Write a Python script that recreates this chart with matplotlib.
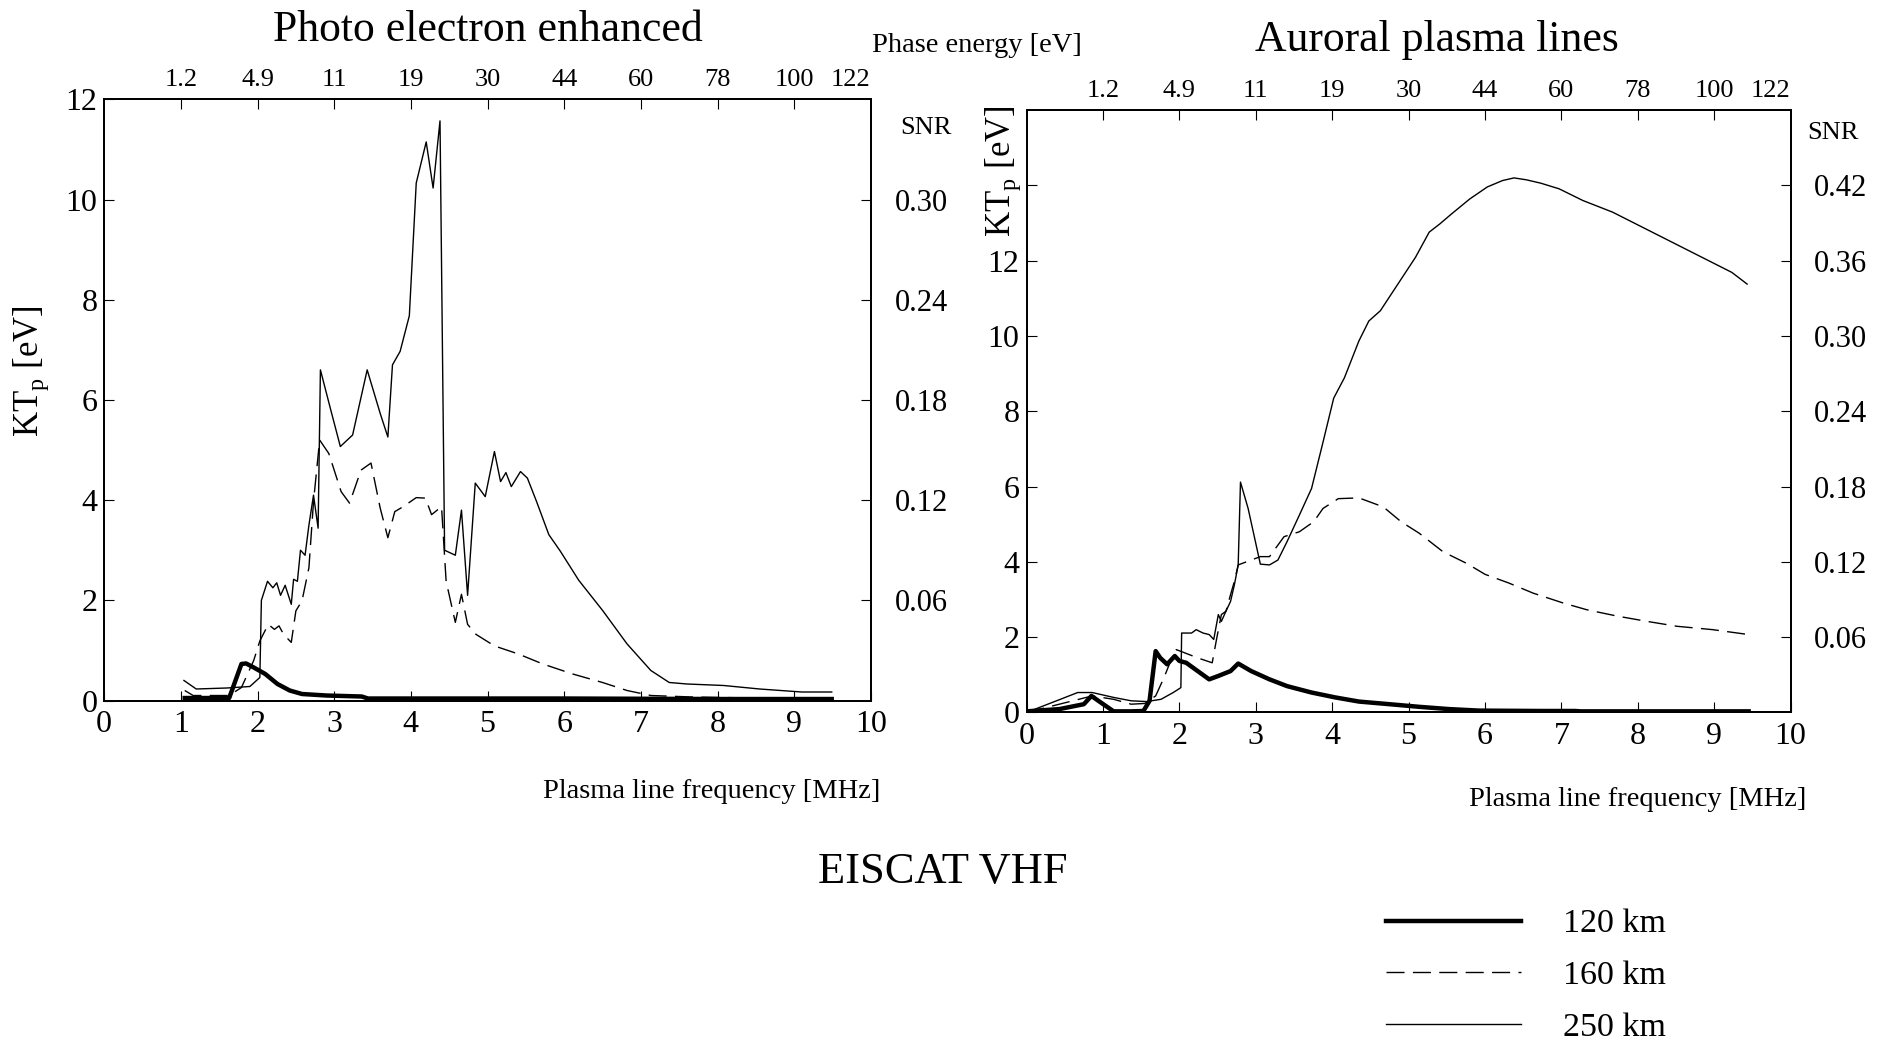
import matplotlib
matplotlib.use("Agg")
import matplotlib.pyplot as plt
from matplotlib.lines import Line2D

plt.rcParams['font.family'] = ['Liberation Serif', 'DejaVu Serif']
plt.rcParams['mathtext.fontset'] = 'custom'
plt.rcParams['mathtext.rm'] = 'Liberation Serif'

# ---- data: photo electron enhanced panel (MHz, eV) ----
pe_x_120 = [1.05, 1.63, 1.79, 1.85, 1.95, 2.1, 2.26, 2.42, 2.58, 2.9, 3.36, 3.44, 4.5, 6.0, 8.0, 9.49]
pe_y_120 = [0.05, 0.05, 0.73, 0.74, 0.66, 0.53, 0.33, 0.2, 0.13, 0.1, 0.08, 0.04, 0.04, 0.04, 0.03, 0.03]

pe_x_160 = [1.05, 1.16, 1.63, 1.79, 1.95, 2.03, 2.14, 2.22, 2.28, 2.34, 2.44, 2.5, 2.58, 2.67,
            2.73, 2.81, 2.93, 3.09, 3.2, 3.35, 3.48, 3.6, 3.7, 3.79, 3.9, 4.07, 4.19, 4.27,
            4.4, 4.46, 4.58, 4.66, 4.74, 4.85, 5.09, 5.4, 5.72, 6.11, 6.5, 6.82, 7.13,
            7.68, 8.47, 9.49]
pe_y_160 = [0.2, 0.1, 0.1, 0.26, 0.8, 1.19, 1.52, 1.42, 1.49, 1.32, 1.16, 1.79, 1.99, 2.65,
            3.97, 5.2, 4.93, 4.17, 3.94, 4.6, 4.74, 3.84, 3.25, 3.77, 3.87, 4.05, 4.04, 3.71,
            3.87, 2.38, 1.56, 2.12, 1.52, 1.32, 1.09, 0.93, 0.73, 0.53, 0.36, 0.2, 0.1,
            0.07, 0.05, 0.05]

pe_x_250 = [1.04, 1.2, 1.6, 1.9, 2.03, 2.05, 2.13, 2.2, 2.25, 2.3, 2.36, 2.44, 2.47, 2.52,
            2.56, 2.62, 2.67, 2.73, 2.79, 2.82, 2.95, 3.08, 3.24, 3.43, 3.6, 3.7, 3.76,
            3.86, 3.98, 4.07, 4.2, 4.29, 4.38, 4.44, 4.58, 4.66, 4.74, 4.84, 4.97, 5.09,
            5.17, 5.24, 5.31, 5.43, 5.52, 5.64, 5.8, 5.95, 6.19, 6.5, 6.82, 7.13, 7.37,
            7.6, 8.08, 8.55, 9.1, 9.49]
pe_y_250 = [0.4, 0.23, 0.25, 0.28, 0.46, 2.0, 2.38, 2.25, 2.35, 2.1, 2.3, 1.92, 2.42, 2.38,
            3.0, 2.9, 3.5, 4.1, 3.44, 6.6, 5.83, 5.07, 5.3, 6.6, 5.73, 5.26, 6.7,
            6.97, 7.68, 10.33, 11.15, 10.23, 11.57, 3.0, 2.9, 3.8, 2.1, 4.34, 4.07, 4.97,
            4.37, 4.55, 4.27, 4.57, 4.44, 3.97, 3.31, 2.98, 2.4, 1.8, 1.13, 0.6, 0.36,
            0.33, 0.3, 0.23, 0.17, 0.17]

# ---- data: auroral plasma lines panel (MHz, eV) ----
au_x_120 = [0.0, 0.43, 0.75, 0.85, 0.94, 1.14, 1.37, 1.53, 1.61, 1.69, 1.75, 1.84, 1.94, 2.0,
            2.09, 2.24, 2.39, 2.51, 2.67, 2.77, 2.94, 3.18, 3.41, 3.73, 4.04, 4.35, 4.75,
            5.14, 5.53, 5.92, 6.71, 7.18, 7.25, 9.45]
au_y_120 = [0.03, 0.09, 0.22, 0.44, 0.31, 0.03, 0.03, 0.04, 0.31, 1.63, 1.45, 1.28, 1.5, 1.37,
            1.32, 1.1, 0.88, 0.97, 1.1, 1.3, 1.1, 0.88, 0.7, 0.53, 0.4, 0.29, 0.22,
            0.15, 0.09, 0.05, 0.04, 0.04, 0.03, 0.03]

au_x_160 = [0.0, 0.43, 0.86, 1.14, 1.37, 1.55, 1.69, 1.8, 1.92, 1.96, 2.05, 2.24, 2.43, 2.49,
            2.55, 2.61, 2.67, 2.72, 2.77, 3.06, 3.18, 3.37, 3.57, 3.76, 3.88, 4.08, 4.35,
            4.67, 4.9, 5.14, 5.45, 5.76, 6.0, 6.31, 6.63, 7.02, 7.33, 7.73, 8.12, 8.51,
            8.98, 9.45]
au_y_160 = [0.0, 0.22, 0.44, 0.35, 0.22, 0.24, 0.44, 0.93, 1.54, 1.67, 1.6, 1.45, 1.32, 1.98,
            2.6, 2.69, 3.13, 3.48, 3.92, 4.14, 4.14, 4.67, 4.8, 5.07, 5.42, 5.68, 5.7,
            5.46, 5.07, 4.76, 4.27, 3.96, 3.67, 3.44, 3.17, 2.91, 2.73, 2.56, 2.42, 2.29,
            2.2, 2.07]

au_x_250 = [0.0, 0.67, 0.86, 1.14, 1.37, 1.57, 1.76, 1.92, 2.02, 2.03, 2.16, 2.22, 2.31, 2.39,
            2.45, 2.51, 2.55, 2.61, 2.67, 2.72, 2.77, 2.8, 2.9, 3.06, 3.18, 3.29, 3.41,
            3.57, 3.73, 3.88, 4.02, 4.16, 4.35, 4.48, 4.63, 4.86, 5.09, 5.27, 5.41, 5.56,
            5.8, 6.03, 6.23, 6.38, 6.54, 6.73, 6.97, 7.28, 7.67, 8.06, 8.45, 8.84, 9.23,
            9.43]
au_y_250 = [0.0, 0.53, 0.53, 0.4, 0.31, 0.29, 0.35, 0.53, 0.66, 2.11, 2.11, 2.2, 2.11, 2.07,
            1.94, 2.6, 2.42, 2.69, 2.95, 3.39, 3.92, 6.12, 5.42, 3.94, 3.92, 4.05, 4.54,
            5.24, 5.95, 7.18, 8.35, 8.89, 9.87, 10.4, 10.67, 11.38, 12.09, 12.76, 12.98, 13.24,
            13.64, 13.96, 14.13, 14.2, 14.15, 14.06, 13.91, 13.6, 13.29, 12.89, 12.49, 12.09, 11.69,
            11.38]

freq_ticks = list(range(0, 11))
energy_ticks = [1, 2, 3, 4, 5, 6, 7, 8, 9, 10]
energy_labels = ['1.2', '4.9', '11', '19', '30', '44', '60', '78', '100', '122']
snr_per_ev = 0.03

DASH = (0, (13, 6))


def panel(rect, series, ytop, kt_ticks, kt_labels, snr_ticks):
    ax = fig.add_axes(rect)
    for x, y, lw, ls in series:
        ax.plot(x, y, color='black', linewidth=lw, linestyle=ls)
    ax.set_xlim(0, 10)
    ax.set_ylim(0, ytop)
    ax.set_xticks(freq_ticks)
    ax.set_yticks(kt_ticks)
    ax.set_yticklabels(kt_labels)
    ax.tick_params(axis='x', direction='in', length=7, labelsize=23, pad=7)
    ax.tick_params(axis='y', direction='in', length=7, labelsize=23, pad=5)
    # top axis: phase energy
    top = ax.twiny()
    top.set_xlim(0, 10)
    top.set_xticks(energy_ticks)
    top.set_xticklabels(energy_labels)
    top.tick_params(direction='in', length=7, labelsize=19, pad=6)
    last = top.xaxis.get_major_ticks()[-1]
    last.tick1line.set_visible(False)
    last.tick2line.set_visible(False)
    last.label2.set_horizontalalignment('right')
    # right axis: SNR
    rt = ax.twinx()
    rt.set_ylim(0, ytop * snr_per_ev)
    rt.set_yticks(snr_ticks)
    rt.set_yticklabels(['%.2f' % v for v in snr_ticks])
    rt.tick_params(direction='in', length=7, labelsize=22, pad=17)
    for a in (ax, top, rt):
        for s in a.spines.values():
            s.set_linewidth(1.2)
    return ax


fig = plt.figure(figsize=(18.78, 10.49), dpi=100)

ax1 = panel([0.0555, 0.3322, 0.4082, 0.5731],
            [(pe_x_250, pe_y_250, 1.0, '-'),
             (pe_x_160, pe_y_160, 1.0, DASH),
             (pe_x_120, pe_y_120, 3.2, '-')],
            12, [0, 2, 4, 6, 8, 10, 12], ['0', '2', '4', '6', '8', '10', '12'],
            [0.06, 0.12, 0.18, 0.24, 0.30])
ax1.set_ylabel(r'KT$_{\rm p}$ [eV]', fontsize=25)
ax1.yaxis.set_label_coords(-0.07, 0.548)
ax1.set_xlabel('Plasma line frequency [MHz]', fontsize=20.5, ha='right')
ax1.xaxis.set_label_coords(1.0125, -0.13)

ax2 = panel([0.5466, 0.3208, 0.4069, 0.5742],
            [(au_x_250, au_y_250, 1.0, '-'),
             (au_x_160, au_y_160, 1.0, DASH),
             (au_x_120, au_y_120, 3.2, '-')],
            16, [0, 2, 4, 6, 8, 10, 12, 14], ['0', '2', '4', '6', '8', '10', '12', ''],
            [0.06, 0.12, 0.18, 0.24, 0.30, 0.36, 0.42])
ax2.set_ylabel(r'KT$_{\rm p}$ [eV]', fontsize=25)
ax2.yaxis.set_label_coords(-0.004, 0.899)
ax2.set_xlabel('Plasma line frequency [MHz]', fontsize=20.5, ha='right')
ax2.xaxis.set_label_coords(1.02, -0.123)

fig.text(0.2596, 0.9715, 'Photo electron enhanced', fontsize=31.5, ha='center', va='center')
fig.text(0.765, 0.962, 'Auroral plasma lines', fontsize=31.5, ha='center', va='center')
fig.text(0.52, 0.957, 'Phase energy [eV]', fontsize=20.5, ha='center', va='center')
fig.text(0.493, 0.878, 'SNR', fontsize=19, ha='center', va='center')
fig.text(0.9758, 0.873, 'SNR', fontsize=19, ha='center', va='center')
fig.text(0.502, 0.169, 'EISCAT VHF', fontsize=32, ha='center', va='center')

handles = [Line2D([], [], color='black', lw=3.2, ls='-'),
           Line2D([], [], color='black', lw=1.0, ls=DASH),
           Line2D([], [], color='black', lw=1.0, ls='-')]
fig.legend(handles, ['120 km', '160 km', '250 km'], loc='upper left',
           bbox_to_anchor=(0.729, 0.150), frameon=False, fontsize=24.5,
           handlelength=3.97, handletextpad=1.23, labelspacing=0.62, borderpad=0)

fig.savefig('out.png', dpi=100)
